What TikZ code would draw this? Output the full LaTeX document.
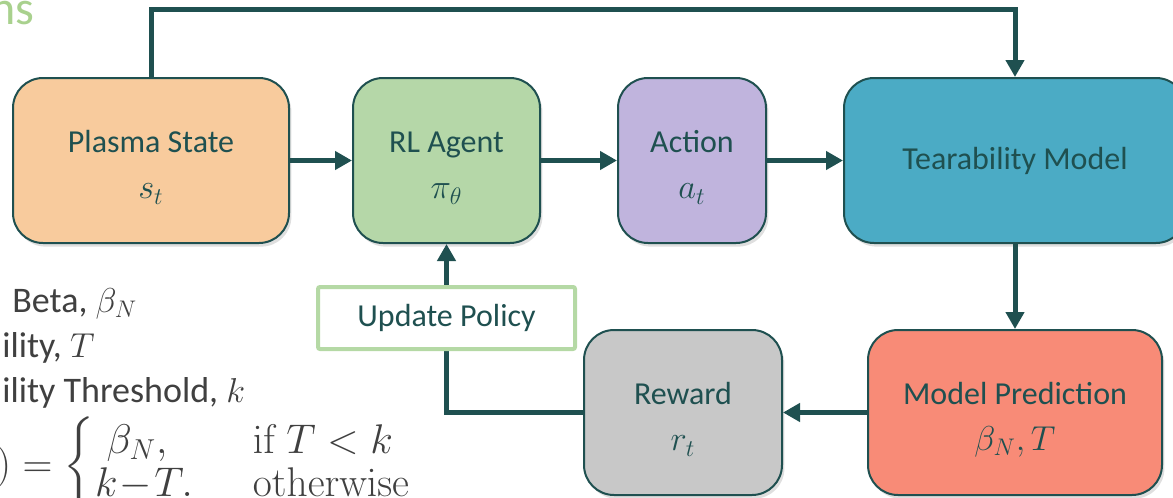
\documentclass[tikz,border=0pt]{standalone}
\usepackage{amsmath}
\usepackage[no-math]{fontspec}
\setmainfont{Carlito}
\usetikzlibrary{arrows.meta,shadows}
\definecolor{dteal}{HTML}{1F5050}
\definecolor{cPlasma}{HTML}{F8CB9D}
\definecolor{cRL}{HTML}{B5D7A8}
\definecolor{cAction}{HTML}{C0B4DD}
\definecolor{cTear}{HTML}{4BABC5}
\definecolor{cPred}{HTML}{F88B77}
\definecolor{cReward}{HTML}{C8C8C8}
\definecolor{cUpd}{HTML}{B5D9A5}
\definecolor{gtext}{HTML}{404040}
\definecolor{ctitle}{HTML}{A9D18E}
\newcommand\boxmath[1]{{\fontsize{18}{23}\selectfont$#1$}}
\newcommand\firstline{\rule{0pt}{18pt}}
\begin{document}
\begin{tikzpicture}[x=0.5pt,y=-0.5pt,
  box/.style={draw=dteal, line width=1pt, rounded corners=15pt, inner sep=0pt,
    align=center, text=dteal, font=\fontsize{16}{23}\selectfont,
    minimum height=82.5pt,
    drop shadow={shadow xshift=1.2pt, shadow yshift=-1.8pt, opacity=0.25}},
  conn/.style={draw=dteal, line width=2.5pt, -{Triangle[length=8.5pt,width=9pt]}},
  side/.style={anchor=base west, text=gtext, font=\fontsize{18}{20}\selectfont, inner sep=0pt}]
\useasboundingbox (0,0) rectangle (1173,498);

\node[anchor=base east, text=ctitle, font=\fontsize{24}{28}\selectfont, inner sep=0pt] (title) at (35,25) {ns};

\node[box, fill=cPlasma, minimum width=138pt] (plasma) at (151,160.5) {\firstline Plasma State\\\boxmath{s_t}};
\node[box, fill=cRL, minimum width=93.5pt] (rl) at (446.5,160.5) {\firstline RL Agent\\\boxmath{\pi_\theta}};
\node[box, fill=cAction, minimum width=74pt] (action) at (692,160.5) {\firstline Action\\\boxmath{a_t}};
\node[box, fill=cTear, minimum width=171pt] (tear) at (1015,160.5) {Tearability Model};
\node[box, fill=cPred, minimum width=147pt] (pred) at (1015,412.5) {\firstline Model Prediction\\\boxmath{\beta_N, T}};
\node[box, fill=cReward, minimum width=99pt] (reward) at (683,412.5) {\firstline Reward\\\boxmath{r_t}};

\coordinate (tl) at (151,9);
\coordinate (tr) at (1015,9);

\draw[conn] (plasma) -- (rl);
\draw[conn] (rl) -- (action);
\draw[conn] (action) -- (tear);
\draw[conn] (plasma.north) -- (tl) -- (tr) -- (tear.north);
\draw[conn] (tear.south) -- (pred.north);
\draw[conn] (pred.west) -- (reward.east);
\draw[conn] (reward.west) -| (rl.south);

\node[draw=cUpd, line width=2pt, fill=white, rounded corners=1pt, inner sep=0pt,
  minimum width=128.5pt, minimum height=31pt, text=dteal,
  font=\fontsize{16}{20}\selectfont] (upd) at (446.5,318) {Update Policy};

\node[side] (beta) at (12,312) {Beta, $\beta_N$};
\node[side] (ilt) at (2,357) {ility, $T$};
\node[side] (ilk) at (2,402) {ility Threshold, $k$};
\node[side, font=\fontsize{20}{18}\selectfont] (rew) at (-4,477) {$) = \begin{cases} \;\beta_N, & \hspace{0.5em}\mathrm{if}\ T<k\\ k\!-\!T. & \hspace{0.5em}\mathrm{otherwise}\end{cases}$};
\end{tikzpicture}
\end{document}
